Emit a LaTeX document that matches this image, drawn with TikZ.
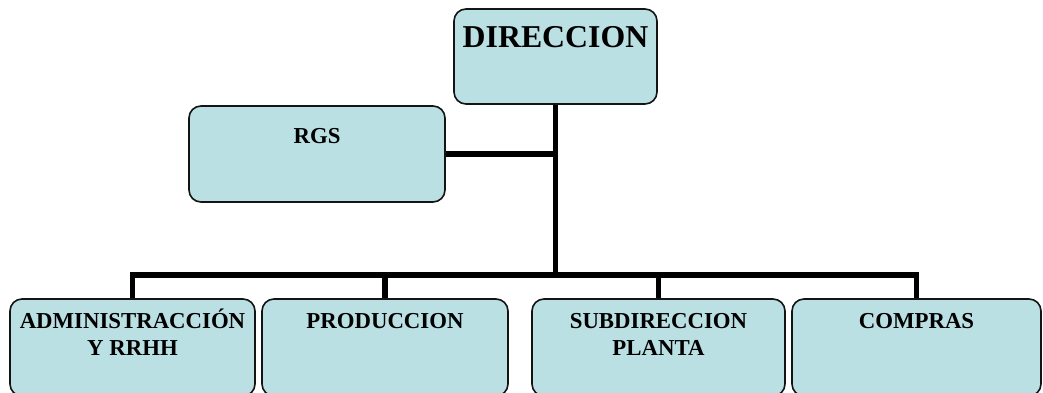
\documentclass[tikz,border=0pt]{standalone}
\usepackage{fontspec}
\setmainfont{Liberation Serif}
\definecolor{boxfill}{RGB}{186,224,227}
\definecolor{boxline}{RGB}{20,20,20}
\begin{document}
\begin{tikzpicture}[x=1pt,y=-1pt,
  orgbox/.style={draw=boxline,line width=1.6pt,fill=boxfill,rounded corners=12pt,inner sep=0pt},
  lbl/.style={font=\bfseries\fontsize{22.8}{27}\selectfont,align=center,anchor=base,inner sep=0pt},
  conn/.style={line width=5.5pt,black,line cap=butt,line join=miter}]
\useasboundingbox[fill=white] (0,0) rectangle (1043,392);
\clip (0,0) rectangle (1043,392);
% boxes
\node[orgbox,minimum width=203pt,minimum height=95pt] (dir) at (555.5,56.5) {};
\node[orgbox,minimum width=256pt,minimum height=96pt] (rgs) at (317,154) {};
\node[orgbox,minimum width=245pt,minimum height=97pt] (b1) at (132.5,347.5) {};
\node[orgbox,minimum width=246pt,minimum height=97pt] (b2) at (385,347.5) {};
\node[orgbox,minimum width=253pt,minimum height=97pt] (b3) at (658.5,347.5) {};
\node[orgbox,minimum width=249pt,minimum height=97pt] (b4) at (916.5,347.5) {};
% labels
\node[lbl,font=\bfseries\fontsize{31.8}{36}\selectfont] (tdir) at (555.5,47) {DIRECCION};
\node[lbl] (trgs) at (317,143) {RGS};
\node[lbl] (tb1) at (132.5,355) {ADMINISTRACCIÓN\\Y RRHH};
\node[lbl] (tb2) at (385,328) {PRODUCCION};
\node[lbl] (tb3) at (658.5,355) {SUBDIRECCION\\PLANTA};
\node[lbl] (tb4) at (916.5,328) {COMPRAS};
% connectors
\coordinate (busy) at (0,275);
\coordinate (rgsy) at (0,154);
\draw[conn] (dir.south) -- (dir.south |- busy);
\draw[conn] (rgs.east) -- (dir.south |- rgsy);
\draw[conn] (b1.north) -- (b1.north |- busy) -- (b4.north |- busy) -- (b4.north);
\draw[conn] (b2.north) -- (b2.north |- busy);
\draw[conn] (b3.north) -- (b3.north |- busy);
\end{tikzpicture}
\end{document}
